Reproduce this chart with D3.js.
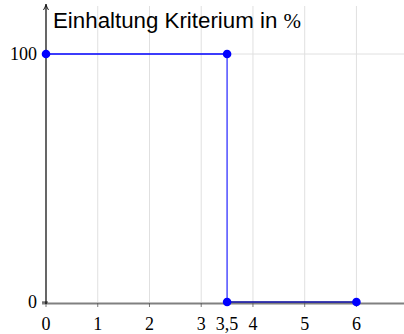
<!DOCTYPE html>
<html>
<head>
<meta charset="utf-8">
<script src="https://d3js.org/d3.v7.min.js"></script>
<style>
  body { margin: 0; background: #fff; }
</style>
</head>
<body>
<div class="chart"></div>
<script>
// Data
const topSeg = [[0, 100], [3.5, 100]]
const dropSeg = [[3.5, 100], [3.5, 0]]
const bottomSeg = [[3.5, 0], [6, 0]]
const points = [[0, 100], [3.5, 100], [3.5, 0], [6, 0]]
const xTicks = [0, 1, 2, 3, 3.5, 4, 5, 6]
const xGrid = [1, 2, 3, 4, 5, 6]
const yTicks = [0, 100]
const title = 'Einhaltung Kriterium in '

const width = 404, height = 334

const svg = d3.select('.chart').append('svg')
  .attr('width', width).attr('height', height)

const x = d3.scaleLinear().domain([0, 6.9]).range([46, 403])
const y = d3.scaleLinear().domain([0, 100]).range([302, 54])

// grid
svg.append('g').selectAll('line').data(xGrid).join('line')
  .attr('x1', d => x(d)).attr('x2', d => x(d))
  .attr('y1', 6).attr('y2', 302)
  .attr('stroke', '#e0e0e0').attr('stroke-width', 1)
svg.append('line')
  .attr('x1', x(0)).attr('x2', width).attr('y1', y(100)).attr('y2', y(100))
  .attr('stroke', '#e0e0e0').attr('stroke-width', 1)

// x axis (gray)
svg.append('line')
  .attr('x1', 42).attr('x2', width).attr('y1', y(0) + 1.5).attr('y2', y(0) + 1.5)
  .attr('stroke', '#808080').attr('stroke-width', 2)

// x tick marks
svg.append('g').selectAll('line').data(xTicks.filter(d => d !== 3.5)).join('line')
  .attr('x1', d => x(d)).attr('x2', d => x(d))
  .attr('y1', y(0) + 1).attr('y2', y(0) + 5)
  .attr('stroke', '#555').attr('stroke-width', 0.8)

// y axis with arrow
svg.append('line')
  .attr('x1', x(0)).attr('x2', x(0)).attr('y1', y(0) + 2).attr('y2', 6)
  .attr('stroke', '#000').attr('stroke-width', 1.2)
svg.append('path')
  .attr('d', `M${x(0) - 2.5},${10} Q${x(0) - 0.5},${7} ${x(0)},${4} Q${x(0) + 0.5},${7} ${x(0) + 2.5},${10}`)
  .attr('fill', 'none').attr('stroke', '#000').attr('stroke-width', 0.9)

// y tick marks
svg.append('g').selectAll('line').data(yTicks).join('line')
  .attr('x1', x(0) - 4).attr('x2', x(0) + 2)
  .attr('y1', d => y(d)).attr('y2', d => y(d))
  .attr('stroke', '#000').attr('stroke-width', 0.8)

// tick labels
svg.append('g').selectAll('text').data(xTicks).join('text')
  .attr('x', d => x(d)).attr('y', 330)
  .attr('text-anchor', 'middle')
  .style('font-family', '"Liberation Serif", serif').style('font-size', '18px')
  .text(d => String(d).replace('.', ','))
svg.append('g').selectAll('text').data(yTicks).join('text')
  .attr('x', x(0) - 9).attr('y', d => y(d) + 6)
  .attr('text-anchor', 'end')
  .style('font-family', '"Liberation Serif", serif').style('font-size', '18px')
  .text(d => d)

// lines
const line = d3.line().x(d => x(d[0])).y(d => y(d[1]))
svg.append('path').datum(topSeg).attr('d', line)
  .attr('fill', 'none').attr('stroke', '#0000ff').attr('stroke-width', 1.3)
svg.append('path').datum(dropSeg).attr('d', line)
  .attr('fill', 'none').attr('stroke', '#3333ff').attr('stroke-width', 1.3)
svg.append('path').datum(bottomSeg).attr('d', line)
  .attr('fill', 'none').attr('stroke', '#00009a').attr('stroke-width', 1.3)

svg.append('g').selectAll('circle').data(points).join('circle')
  .attr('cx', d => x(d[0])).attr('cy', d => y(d[1])).attr('r', 4.3)
  .attr('fill', '#0000ff')

// title
const t = svg.append('text').attr('x', 53).attr('y', 28)
  .style('font-family', '"Liberation Sans", Arial, sans-serif').style('font-size', '22.3px')
t.append('tspan').text(title)
t.append('tspan').style('font-family', '"Liberation Serif", serif').style('font-size', '21px').text('%')
</script>
</body>
</html>
